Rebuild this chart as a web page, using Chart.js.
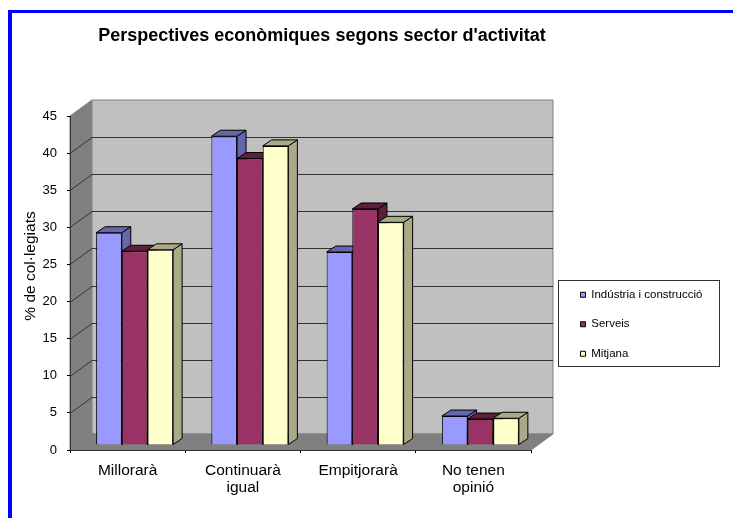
<!DOCTYPE html>
<html>
<head>
<meta charset="utf-8">
<title>Perspectives econòmiques</title>
<script src="https://cdn.jsdelivr.net/npm/chart.js@4/dist/chart.umd.min.js"></script>
<style>
  body { margin: 0; background: #fff; }
  #frame { position: absolute; left: 8px; top: 10px; right: 0; bottom: 0; border-left: 4px solid #0000ff; border-top: 3px solid #0000ff; }
  #chart { position: absolute; left: 0; top: 0; }
</style>
</head>
<body>
<div id="frame"></div>
<canvas id="chart" width="733" height="518"></canvas>
<script>
const categories = ["Millorarà", ["Continuarà", "igual"], "Empitjorarà", ["No tenen", "opinió"]];
const industria = [28.6, 41.6, 26.0, 3.9];
const serveis = [26.1, 38.6, 31.8, 3.5];
const mitjana = [26.3, 40.3, 30.0, 3.6];

const chartTitle = "Perspectives econòmiques segons sector d'activitat";
const yTitle = "% de col·legiats";
const seriesNames = ["Indústria i construcció", "Serveis", "Mitjana"];

const frontColors = ["#9999ff", "#993366", "#ffffcc"];
const depthColors = ["#6666aa", "#5c1f3d", "#aaaa88"];
const fontName = "'Liberation Sans', Arial, sans-serif";

// 3d look: walls sit behind the axes, bars stand a bit inside the floor
const wallDx = 22, wallDy = -16;
const barDx = 7, barDy = -5;
const depthDx = 9, depthDy = -6;

function quad(ctx, pts, fill, stroke) {
  ctx.beginPath();
  pts.forEach((p, i) => i ? ctx.lineTo(p[0], p[1]) : ctx.moveTo(p[0], p[1]));
  ctx.closePath();
  ctx.fillStyle = fill;
  ctx.fill();
  if (stroke) {
    ctx.strokeStyle = stroke;
    ctx.lineWidth = 1;
    ctx.stroke();
  }
}

const box3d = {
  id: 'box3d',
  afterLayout(chart) {
    // title and legend do not sit where the layout puts them
    const t = chart.titleBlock;
    t.left = 96; t.right = 548; t.top = 26; t.bottom = 46;
    const l = chart.legend;
    const w = l.right - l.left, h = l.bottom - l.top;
    l.left = 562.5; l.right = 562.5 + w; l.top = 271; l.bottom = 271 + h;
  },
  beforeDraw(chart) {
    const ctx = chart.ctx;
    const { left, right, top, bottom } = chart.chartArea;
    const y = chart.scales.y;
    ctx.save();
    // left wall, back wall, floor
    quad(ctx, [[left, bottom], [left + wallDx, bottom + wallDy], [left + wallDx, top + wallDy], [left, top]], "#808080", "#808080");
    quad(ctx, [[left + wallDx, bottom + wallDy], [right + wallDx, bottom + wallDy], [right + wallDx, top + wallDy], [left + wallDx, top + wallDy]], "#c0c0c0", "#808080");
    quad(ctx, [[left, bottom], [right, bottom], [right + wallDx, bottom + wallDy], [left + wallDx, bottom + wallDy]], "#808080", "#808080");
    // gridlines run over both walls
    ctx.strokeStyle = "#333333";
    ctx.lineWidth = 1;
    y.ticks.forEach(tick => {
      if (tick.value == 0 || tick.value == 45) return;
      const py = Math.round(y.getPixelForValue(tick.value)) + 0.5;
      ctx.beginPath();
      ctx.moveTo(left, py);
      ctx.lineTo(left + wallDx, py + wallDy);
      ctx.lineTo(right + wallDx, py + wallDy);
      ctx.stroke();
    });
    // legend box
    ctx.strokeStyle = "#333333";
    ctx.strokeRect(558.5, 280.5, 161, 86);
    // y axis title
    ctx.translate(31, 266);
    ctx.rotate(-Math.PI / 2);
    ctx.fillStyle = "#000";
    ctx.font = "15.5px " + fontName;
    ctx.textAlign = "center";
    ctx.textBaseline = "middle";
    ctx.fillText(yTitle, 0, 0);
    ctx.restore();
  },
  beforeDatasetsDraw(chart) {
    const ctx = chart.ctx;
    ctx.save();
    ctx.translate(barDx, barDy);
    // side and top faces left to right, the fronts go on top of them
    chart.data.datasets.forEach((ds, i) => {
      chart.getDatasetMeta(i).data.forEach(bar => {
        const x0 = bar.x - bar.width / 2, x1 = bar.x + bar.width / 2;
        quad(ctx, [[x1, bar.y], [x1 + depthDx, bar.y + depthDy], [x1 + depthDx, bar.base + depthDy], [x1, bar.base]], depthColors[i], "#000");
        quad(ctx, [[x0, bar.y], [x0 + depthDx, bar.y + depthDy], [x1 + depthDx, bar.y + depthDy], [x1, bar.y]], depthColors[i], "#000");
      });
    });
  },
  afterDatasetsDraw(chart) {
    chart.ctx.restore();
  }
};

const seriesValues = [industria, serveis, mitjana];

new Chart(document.getElementById('chart'), {
  type: 'bar',
  data: {
    labels: categories,
    datasets: seriesValues.map((values, i) => ({
      label: seriesNames[i],
      data: values,
      backgroundColor: frontColors[i],
      borderColor: "#000",
      borderWidth: 1,
      barPercentage: 1,
      categoryPercentage: 0.668
    }))
  },
  options: {
    responsive: false,
    animation: false,
    layout: { padding: { left: 0, right: 202, top: 96, bottom: 0 } },
    scales: {
      y: {
        min: 0,
        max: 45,
        afterFit(scale) { scale.width = 70; },
        ticks: { stepSize: 5, padding: 10, color: "#000", font: { family: fontName, size: 13 } },
        grid: { drawOnChartArea: false, tickLength: 3, tickColor: "#000" },
        border: { color: "#333333" }
      },
      x: {
        afterFit(scale) { scale.height = 68; },
        ticks: { autoSkip: false, maxRotation: 0, padding: 9, color: "#000", font: { family: fontName, size: 15.5, lineHeight: '17px' } },
        grid: { drawOnChartArea: false, tickLength: 3, tickColor: "#000" },
        border: { color: "#333333" }
      }
    },
    plugins: {
      tooltip: { enabled: false },
      title: {
        display: true,
        text: chartTitle,
        color: "#000",
        padding: 0,
        font: { family: fontName, size: 18, weight: 'bold', lineHeight: '20px' }
      },
      legend: {
        position: 'chartArea',
        align: 'start',
        labels: { boxWidth: 5, boxHeight: 5, padding: 18, color: "#000", font: { family: fontName, size: 11.5 } }
      }
    }
  },
  plugins: [box3d]
});
</script>
</body>
</html>
